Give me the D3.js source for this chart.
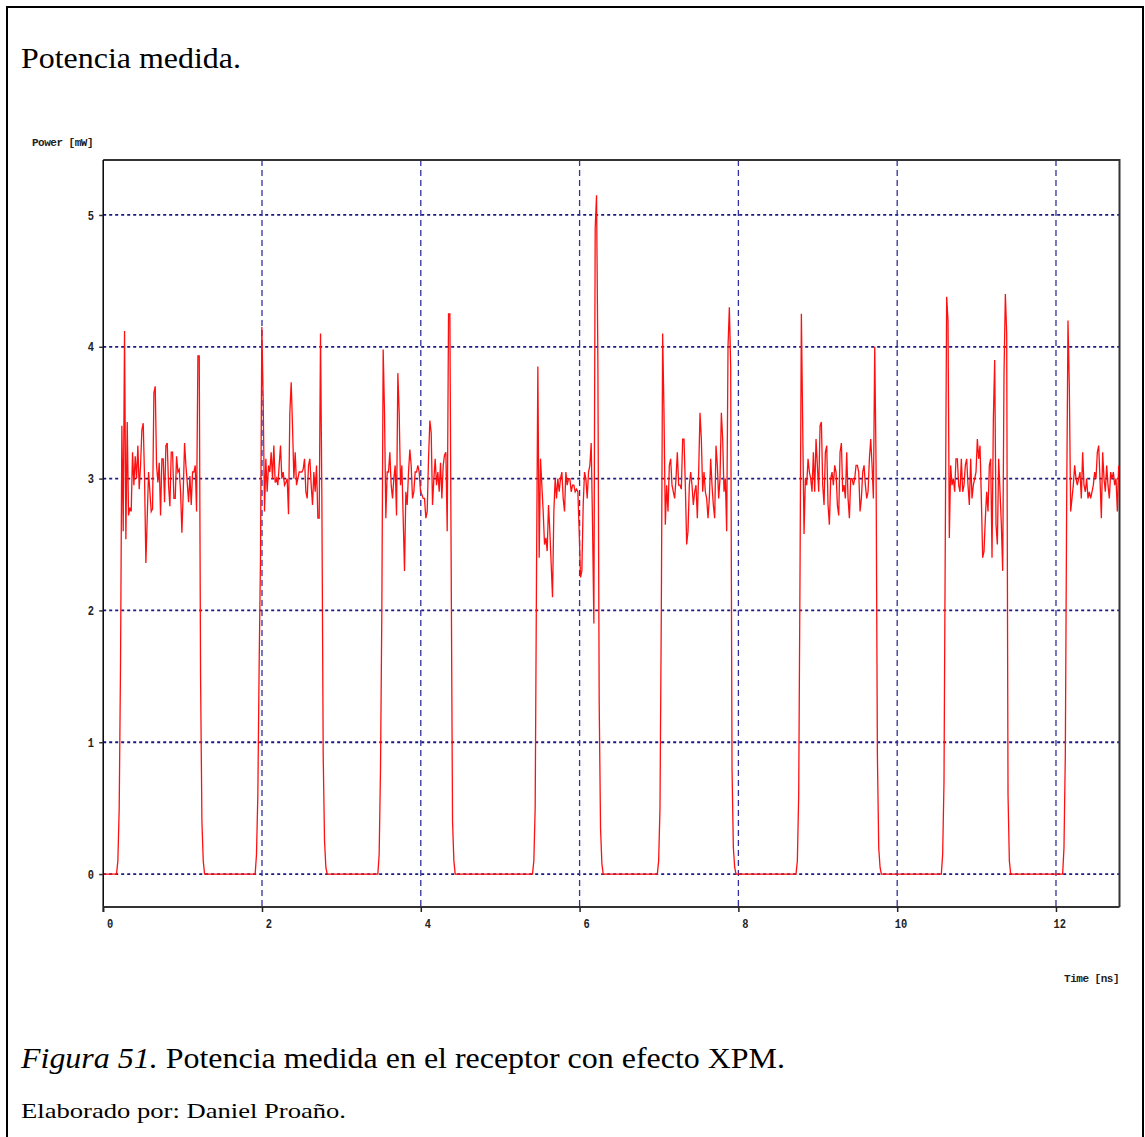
<!DOCTYPE html>
<html>
<head>
<meta charset="utf-8">
<script src="https://cdn.jsdelivr.net/npm/d3@7"></script>
<style>
  html, body { margin: 0; padding: 0; background: #fff; }
  svg { display: block; }
</style>
</head>
<body>
<svg id="fig" width="1145" height="1137"></svg>
<script>
// Received optical power (mW) versus time (ns), with XPM distortion.
const timeTicks = [0, 2, 4, 6, 8, 10, 12];
const powerTicks = [0, 1, 2, 3, 4, 5];
const timeDomain = [0, 12.8];
const powerDomain = [-0.25, 5.417];

// Each burst is sampled every sampleStep ns, starting at its burstStart.
const sampleStep = 0.0168;
const burstStarts = [0.168, 1.914, 3.459, 5.407, 6.979, 8.726, 10.556, 12.084];

const burst1 = [0, 0.1, 0.5, 1.6, 3.4, 2.6, 4.12, 2.54, 3.43, 2.72, 2.78, 2.75, 3.2, 2.95, 3.17, 3.0,
  3.25, 2.92, 3.1, 3.37, 3.42, 3.0, 2.36, 2.7, 3.05, 2.9, 2.75, 2.77, 3.65, 3.7, 3.1, 2.97, 3.12,
  2.72, 3.15, 3.15, 2.82, 3.25, 3.27, 2.95, 2.79, 3.2, 3.2, 2.85, 2.85, 3.17, 3.05, 3.07, 2.9, 2.59,
  2.9, 3.27, 3.1, 2.97, 2.82, 3.02, 2.8, 3.05, 3.05, 3.1, 2.75, 3.93, 3.93, 1.5, 0.4, 0.1, 0];

const burst2 = [0, 0.15, 0.6, 1.6, 2.4, 4.15, 3.6, 2.75, 3.15, 2.9, 3.1, 3.05, 3.2, 3.0, 3.25, 2.97,
  3.0, 2.95, 3.1, 3.25, 3.0, 3.05, 2.95, 2.97, 3.0, 2.73, 3.5, 3.73, 3.4, 3.0, 3.2, 2.95, 3.0, 3.05,
  3.05, 3.05, 3.07, 3.15, 2.9, 2.85, 3.1, 3.15, 2.95, 2.8, 3.05, 2.9, 3.1, 2.7, 2.7, 4.1, 2.85, 0.9,
  0.25, 0.05, 0];

const burst3 = [0, 0.15, 0.8, 2.0, 3.98, 3.5, 2.7, 3.05, 3.05, 3.2, 2.95, 2.85, 3.0, 3.1, 2.72, 3.8,
  3.5, 2.95, 3.1, 2.7, 2.3, 2.9, 2.8, 3.05, 3.22, 3.1, 2.85, 2.9, 3.05, 3.05, 3.1, 3.05, 2.9, 2.88,
  2.85, 2.85, 2.7, 2.75, 3.15, 3.44, 3.35, 2.8, 3.0, 3.15, 2.95, 3.05, 2.9, 3.12, 2.85, 3.1, 3.18,
  3.2, 2.6, 4.25, 4.25, 2.3, 0.4, 0.1, 0];

const burst4 = [0, 0.1, 0.5, 2.27, 3.85, 2.4, 3.15, 2.95, 2.75, 2.5, 2.55, 2.45, 2.8, 2.6, 2.35, 2.1,
  2.75, 3.0, 2.85, 3.0, 2.9, 3.0, 3.05, 2.85, 2.75, 3.05, 2.95, 3.0, 3.0, 2.9, 2.95, 2.95, 2.9, 2.92,
  2.9, 2.6, 2.25, 2.3, 2.8, 3.05, 3.0, 2.85, 3.05, 3.1, 3.27, 2.65, 1.9, 4.9, 5.15, 3.9, 1.3, 0.35,
  0.08, 0];

const burst5 = [0, 0.1, 0.5, 2.0, 4.1, 3.5, 2.65, 2.95, 2.75, 3.1, 3.15, 2.95, 2.9, 2.85, 3.0, 3.2,
  2.95, 2.95, 2.92, 3.3, 3.3, 2.95, 2.5, 2.6, 2.95, 3.05, 2.95, 2.8, 2.9, 2.95, 2.7, 3.05, 3.5, 3.3,
  2.9, 3.05, 2.9, 2.85, 2.7, 2.85, 3.15, 2.95, 2.8, 2.7, 3.25, 3.1, 2.85, 3.0, 3.5, 3.3, 2.9, 3.0,
  2.6, 4.0, 4.3, 3.85, 0.8, 0.2, 0.05, 0];

const burst6 = [0, 0.1, 0.6, 2.3, 4.25, 3.4, 2.58, 3.0, 2.95, 3.15, 3.05, 3.0, 2.9, 3.2, 2.9, 3.3,
  3.1, 2.9, 3.4, 3.43, 2.95, 2.8, 3.2, 3.25, 2.8, 2.65, 3.0, 3.05, 2.95, 3.1, 3.05, 2.8, 2.72, 3.2,
  3.27, 2.9, 2.95, 2.85, 3.2, 2.85, 2.7, 3.0, 3.0, 2.95, 3.0, 3.1, 3.1, 3.05, 2.75, 2.85, 3.05, 3.1,
  2.95, 2.85, 2.9, 3.15, 3.3, 3.1, 2.85, 4.0, 3.1, 0.9, 0.2, 0.05, 0];

const burst7 = [0, 0.15, 0.7, 2.6, 4.38, 4.2, 2.55, 3.1, 2.95, 3.0, 2.9, 3.15, 3.15, 2.95, 2.9, 3.15,
  2.9, 2.95, 3.1, 3.15, 2.95, 2.8, 3.15, 2.85, 2.95, 3.0, 3.05, 3.3, 3.15, 3.25, 2.85, 2.4, 2.45, 2.7,
  2.9, 2.75, 3.1, 3.15, 2.4, 3.45, 3.9, 2.65, 2.5, 3.15, 2.9, 2.65, 2.3, 3.8, 4.4, 4.1, 0.6, 0.1, 0];

const burst8 = [0, 0.2, 0.9, 2.8, 4.2, 3.7, 2.75, 2.85, 2.95, 3.1, 3.0, 2.95, 3.0, 3.05, 2.85, 3.2,
  2.95, 2.9, 3.0, 2.85, 2.9, 2.85, 2.9, 2.95, 3.05, 3.0, 3.2, 3.25, 3.0, 2.7, 3.2, 3.0, 2.9, 3.1,
  2.95, 2.85, 3.05, 3.0, 3.05, 2.95, 3.0, 2.75, 3.1];

const bursts = [burst1, burst2, burst3, burst4, burst5, burst6, burst7, burst8];

// Flatten into one trace: the line idles at 0 mW between bursts.
const trace = [[0, 0]];
bursts.forEach((vals, k) => {
  vals.forEach((p, i) => trace.push([burstStarts[k] + i * sampleStep, p]));
});

const SERIF = '"Liberation Serif", "Times New Roman", "DejaVu Serif", serif';
const MONO = '"Liberation Mono", "DejaVu Sans Mono", monospace';

const svg = d3.select("#fig");

// Page frame
svg.append("rect")
  .attr("x", 7).attr("y", 7).attr("width", 1136).attr("height", 1140)
  .attr("fill", "none").attr("stroke", "#000").attr("stroke-width", 2);

svg.append("text")
  .attr("font-family", SERIF).attr("fill", "#000")
  .attr("x", 21).attr("y", 68).attr("font-size", 30)
  .attr("textLength", 220).attr("lengthAdjust", "spacingAndGlyphs")
  .text("Potencia medida.");

const plot = { left: 103.2, right: 1119.5, top: 160, bottom: 907 };
const x = d3.scaleLinear().domain(timeDomain).range([plot.left, plot.right]);
const y = d3.scaleLinear().domain(powerDomain).range([plot.bottom, plot.top]);

// Grid: dotted horizontals, dashed verticals
const grid = svg.append("g");
grid.selectAll("line.h").data(powerTicks).join("line")
  .attr("class", "h")
  .attr("x1", plot.left).attr("x2", plot.right)
  .attr("y1", d => y(d)).attr("y2", d => y(d))
  .attr("stroke", "#1a1a80").attr("stroke-width", 1.8)
  .attr("stroke-dasharray", "3,3");
grid.selectAll("line.v").data(timeTicks.filter(d => d > 0)).join("line")
  .attr("class", "v")
  .attr("x1", d => x(d)).attr("x2", d => x(d))
  .attr("y1", plot.top).attr("y2", plot.bottom)
  .attr("stroke", "#3030a0").attr("stroke-width", 1.3)
  .attr("stroke-dasharray", "6,4");

// Plot box (top and right edges)
svg.append("path")
  .attr("d", `M${plot.left},${plot.top}H${plot.right}V${plot.bottom}`)
  .attr("fill", "none").attr("stroke", "#333").attr("stroke-width", 2);

// Signal trace
svg.append("path")
  .datum(trace)
  .attr("fill", "none")
  .attr("stroke", "#ff1010")
  .attr("stroke-width", 1.3)
  .attr("stroke-linejoin", "miter")
  .attr("d", d3.line().x(d => x(d[0])).y(d => y(d[1])));

// Axes
const yAxis = svg.append("g")
  .attr("transform", `translate(${plot.left},0)`)
  .call(d3.axisLeft(y).tickValues(powerTicks).tickFormat(d3.format("d")).tickSize(4).tickPadding(8));
yAxis.select(".domain").attr("stroke", "#000").attr("stroke-width", 1.5)
  .attr("d", `M0,${plot.top}V${plot.bottom + 5}`);
yAxis.selectAll(".tick line").attr("stroke", "#333").attr("stroke-width", 1.5);
yAxis.selectAll(".tick text")
  .attr("font-family", MONO).attr("font-weight", "bold").attr("font-size", 13)
  .attr("fill", "#222")
  .attr("transform", "scale(0.8,1)").attr("x", -11.5);

const xAxis = svg.append("g")
  .attr("transform", `translate(0,${plot.bottom})`)
  .call(d3.axisBottom(x).tickValues(timeTicks).tickFormat(d3.format("d")).tickSize(5).tickPadding(8));
xAxis.select(".domain").attr("stroke", "#333").attr("stroke-width", 2)
  .attr("d", `M${plot.left},0H${plot.right}`);
xAxis.selectAll(".tick line").attr("stroke", "#222").attr("stroke-width", 1.5);
xAxis.selectAll(".tick text")
  .attr("font-family", MONO).attr("font-weight", "bold").attr("font-size", 13)
  .attr("fill", "#222")
  .attr("text-anchor", "end")
  .attr("transform", "scale(0.8,1)").attr("x", 12).attr("y", 12);

// Axis titles
svg.append("text")
  .attr("font-family", MONO).attr("font-weight", "bold").attr("fill", "#222")
  .attr("x", 32).attr("y", 146).attr("font-size", 11).attr("letter-spacing", -0.5)
  .text("Power [mW]");
svg.append("text")
  .attr("font-family", MONO).attr("font-weight", "bold").attr("fill", "#222")
  .attr("x", 1119).attr("y", 982).attr("font-size", 11).attr("letter-spacing", -0.5)
  .attr("text-anchor", "end")
  .text("Time [ns]");

// Caption
const cap = svg.append("text")
  .attr("font-family", SERIF).attr("fill", "#000")
  .attr("x", 21).attr("y", 1068).attr("font-size", 29)
  .attr("textLength", 764).attr("lengthAdjust", "spacingAndGlyphs");
cap.append("tspan").attr("font-style", "italic").text("Figura 51.");
cap.append("tspan").text(" Potencia medida en el receptor con efecto XPM.");

svg.append("text")
  .attr("font-family", SERIF).attr("fill", "#000")
  .attr("x", 21).attr("y", 1118).attr("font-size", 22)
  .attr("textLength", 325).attr("lengthAdjust", "spacingAndGlyphs")
  .text("Elaborado por: Daniel Proaño.");
</script>
</body>
</html>
